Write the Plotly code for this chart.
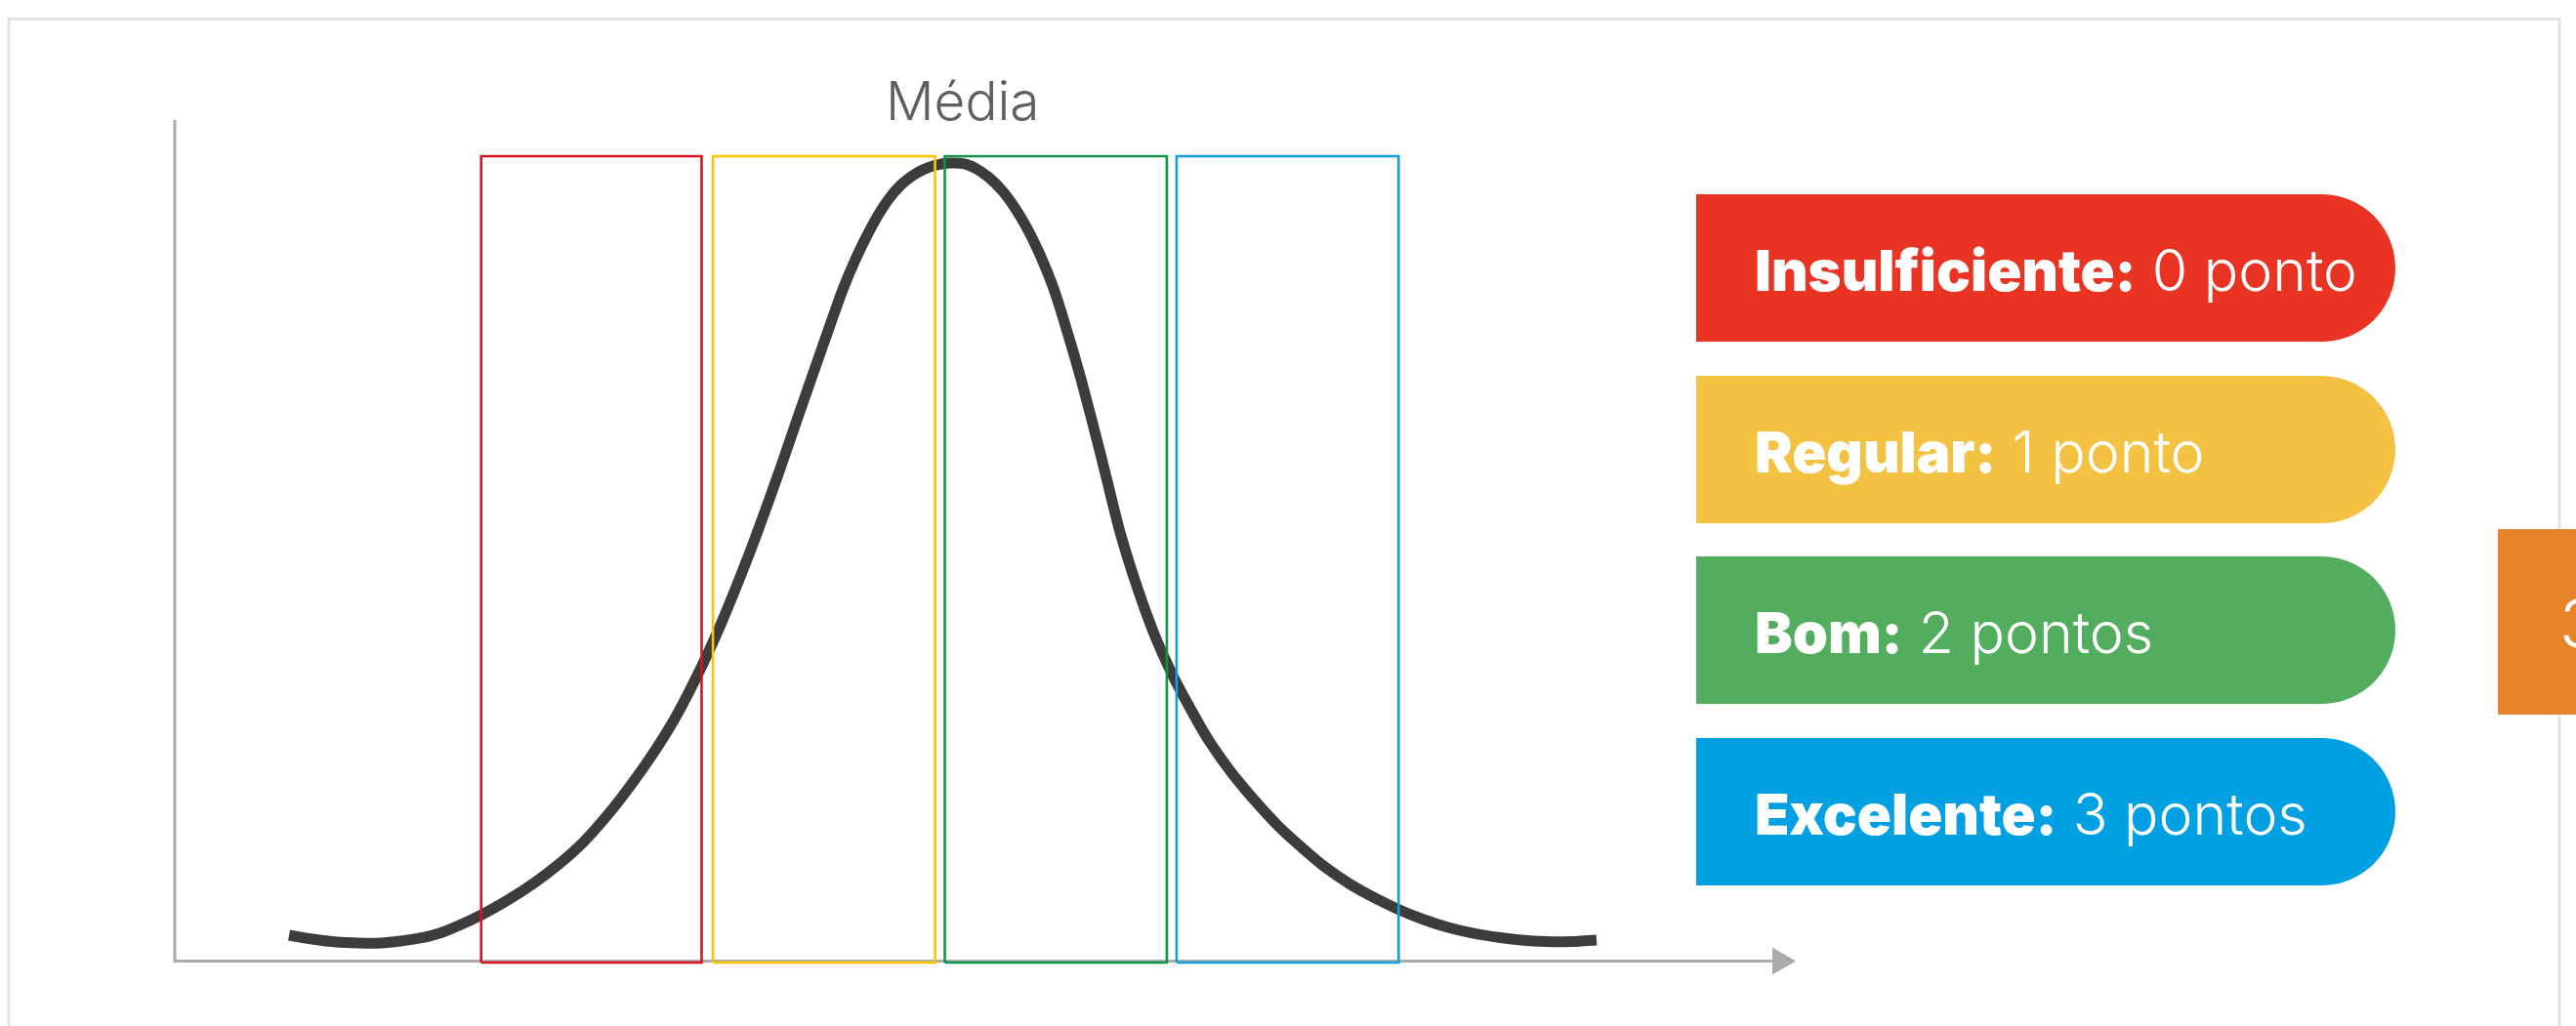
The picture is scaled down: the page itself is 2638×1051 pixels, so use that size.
import math
import plotly.graph_objects as go

W, H = 2638, 1051

# ---- data -------------------------------------------------------------
# bell curve of grades (x: score scale 0-100, y: relative frequency 0-100)
curve_x = [7.05, 8.49, 10.00, 11.33, 12.71, 13.92, 15.12, 16.33, 17.53, 18.92,
           20.54, 22.17, 23.67, 25.18, 26.69, 28.19, 29.46, 30.78, 32.17, 33.49,
           34.52, 35.54, 36.45, 37.35, 38.55, 39.94, 41.20, 41.93, 42.65, 43.37,
           44.04, 44.76, 45.42, 46.14, 46.87, 47.83,
           48.73, 49.46, 50.24, 51.08, 51.87, 52.65, 53.43, 54.16, 54.88, 55.90,
           57.11, 58.31, 59.40, 60.48, 61.51, 62.59, 63.73, 65.12, 66.51, 68.01,
           69.52, 71.02, 72.53, 74.04, 75.54, 77.05, 78.55, 80.06, 81.57, 83.07,
           84.58, 86.20, 87.71]
curve_y = [3.08, 2.61, 2.26, 2.15, 2.15, 2.38, 2.73, 3.31, 4.24, 5.51,
           7.25, 9.29, 11.49, 14.10, 17.35, 21.07, 24.55, 28.61, 33.72, 39.18,
           43.94, 48.93, 53.69, 58.56, 65.30, 72.95, 79.80, 83.17, 86.07, 88.63,
           90.60, 92.22, 93.27, 94.08, 94.60, 94.89,
           94.78, 94.20, 93.15, 91.53, 89.44, 86.88, 83.75, 80.27, 75.97, 69.24,
           60.30, 51.02, 44.28, 38.60, 34.18, 30.24, 26.41, 22.58, 19.33, 16.19,
           13.52, 11.09, 9.11, 7.49, 6.09, 4.93, 4.00, 3.31, 2.84, 2.50,
           2.32, 2.32, 2.50]

# score bands
band_names = ["Insulficiente", "Regular", "Bom", "Excelente"]
band_points = ["0 ponto", "1 ponto", "2 pontos", "3 pontos"]
band_lo = [18.9, 33.2, 47.5, 61.8]
band_hi = [32.5, 46.9, 61.2, 75.5]
band_top = 95.7
band_bottom = -0.17

mean_label = "Média"
side_label = "3"

# ---- styling / layout -------------------------------------------------
band_line_colors = ["#d7141f", "#fcc500", "#0f9443", "#13a0df"]
pill_colors = ["#e93424", "#f4c243", "#52ae5e", "#00a0e3"]
FONT = "Inter, 'Open Sans', sans-serif"

# pixel placement of the axes: y-axis at x=179px, arrow tip at 1839px,
# x-axis at y=984.5px, y-axis top at 123px
AX_X0, AX_X1 = 179.0, 1839.0
AX_Y0, AX_Y1 = 984.5, 123.0
sx = (AX_X1 - AX_X0) / 100.0
sy = (AX_Y0 - AX_Y1) / 100.0
x_range = [(0 - AX_X0) / sx, (W - AX_X0) / sx]
y_range = [(AX_Y0 - H) / sy, AX_Y0 / sy]


def px(xp):
    return xp / W


def py(yp):
    return 1 - yp / H


fig = go.Figure()

# axes with arrow head
arrow_base = 100 - 24 / sx
fig.add_trace(go.Scatter(x=[0, 0, arrow_base], y=[100, 0, 0], mode="lines",
                         line=dict(color="#ababab", width=3), hoverinfo="skip"))
fig.add_trace(go.Scatter(x=[arrow_base, 100, arrow_base, arrow_base],
                         y=[14 / sy, 0, -14 / sy, 14 / sy], mode="lines",
                         fill="toself", fillcolor="#ababab",
                         line=dict(color="#ababab", width=0), hoverinfo="skip"))

# distribution curve
fig.add_trace(go.Scatter(x=curve_x, y=curve_y, mode="lines",
                         line=dict(color="#3c3c3b", width=11, shape="spline", smoothing=0.6),
                         hoverinfo="skip"))

# band outlines
for lo, hi, col in zip(band_lo, band_hi, band_line_colors):
    fig.add_trace(go.Scatter(x=[lo, hi, hi, lo, lo],
                             y=[band_bottom, band_bottom, band_top, band_top, band_bottom],
                             mode="lines", line=dict(color=col, width=2.6),
                             hoverinfo="skip"))

shapes = []
annotations = []

# outer frame
shapes.append(dict(type="rect", xref="paper", yref="paper",
                   x0=px(9), x1=px(2621), y0=py(1200), y1=py(19.5),
                   line=dict(color="#e3e3e3", width=3), fillcolor="rgba(0,0,0,0)"))

# side tab
shapes.append(dict(type="rect", xref="paper", yref="paper",
                   x0=px(2558), x1=px(2700), y0=py(732), y1=py(542),
                   line=dict(width=0), fillcolor="#e5832a"))
annotations.append(dict(xref="paper", yref="paper", x=px(2619), y=py(638),
                        xanchor="left", yanchor="middle", showarrow=False,
                        text=side_label,
                        font=dict(family=FONT, size=70, color="white", weight=300)))

# legend pills
PILL_L, PILL_R, PILL_H = 1737, 2453, 151
pill_tops = [199, 385, 570, 756]
r = PILL_H / 2
for i, (name, pts, col) in enumerate(zip(band_names, band_points, pill_colors)):
    top = pill_tops[i]
    cy = top + r
    cx = PILL_R - r
    path = f"M {px(PILL_L)},{py(top)} L {px(cx)},{py(top)}"
    n = 40
    for k in range(1, n + 1):
        a = -math.pi / 2 + math.pi * k / n
        path += f" L {px(cx + r * math.cos(a))},{py(cy + r * math.sin(a))}"
    path += f" L {px(PILL_L)},{py(top + PILL_H)} Z"
    shapes.append(dict(type="path", xref="paper", yref="paper", path=path,
                       line=dict(width=0), fillcolor=col))
    annotations.append(dict(
        xref="paper", yref="paper", x=px(1795), y=py(cy + 2),
        xanchor="left", yanchor="middle", showarrow=False,
        text=f"<span style='font-weight:900'>{name}:</span> "
             f"<span style='font-weight:300;font-size:59px'>{pts}</span>",
        font=dict(family=FONT, size=58, color="white")))

# mean label
annotations.append(dict(xref="paper", yref="paper", x=px(986), y=py(103),
                        xanchor="center", yanchor="middle", showarrow=False,
                        text=mean_label,
                        font=dict(family=FONT, size=55, color="#5f5f5f", weight=300)))

fig.update_layout(
    width=W, height=H,
    margin=dict(l=0, r=0, t=0, b=0),
    paper_bgcolor="white", plot_bgcolor="white",
    showlegend=False,
    xaxis=dict(range=x_range, visible=False, fixedrange=True),
    yaxis=dict(range=y_range, visible=False, fixedrange=True),
    shapes=shapes,
    annotations=annotations,
)

fig.write_html("out.html")
